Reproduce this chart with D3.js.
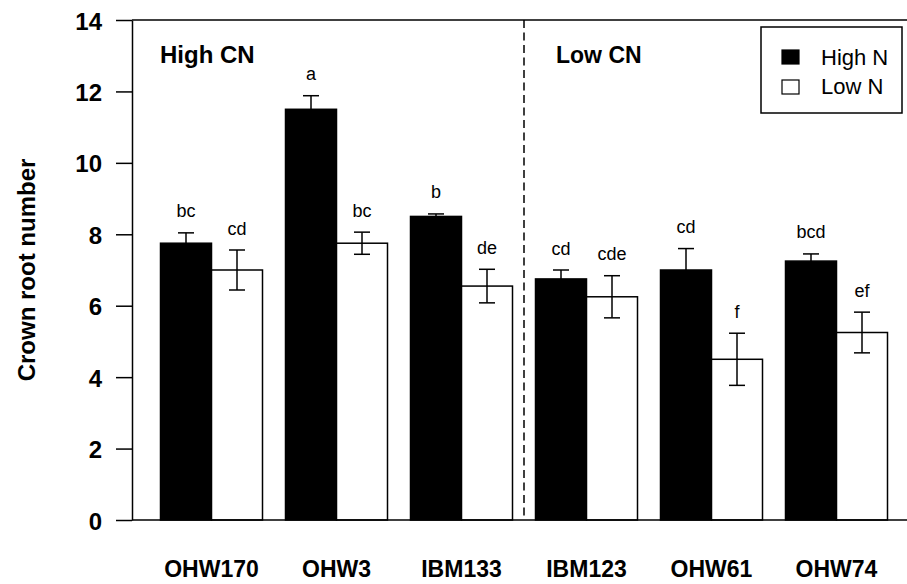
<!DOCTYPE html>
<html>
<head>
<meta charset="utf-8">
<script src="https://cdnjs.cloudflare.com/ajax/libs/d3/7.8.5/d3.min.js"></script>
<style>
  body { margin: 0; background: #fff; }
  svg text { font-family: 'Liberation Sans', Arial, sans-serif; }
</style>
</head>
<body>
<div id="chart"></div>
<script>
// genotypes and treatments
const categories = ['OHW170', 'OHW3', 'IBM133', 'IBM123', 'OHW61', 'OHW74'];
const treatments = ['High N', 'Low N'];

// crown root number means and standard errors
const highN = [7.75, 11.5, 8.5, 6.75, 7.0, 7.25];
const highSE = [0.29, 0.38, 0.07, 0.25, 0.6, 0.2];
const lowN = [7.0, 7.75, 6.55, 6.25, 4.5, 5.25];
const lowSE = [0.56, 0.31, 0.47, 0.59, 0.73, 0.57];

// significance letters
const highLetters = ['bc', 'a', 'b', 'cd', 'cd', 'bcd'];
const lowLetters = ['cd', 'bc', 'de', 'cde', 'f', 'ef'];

const yTicks = [0, 2, 4, 6, 8, 10, 12, 14];

const width = 907, height = 584;
const axisX = 132;

const svg = d3.select('#chart')
  .append('svg')
  .attr('width', width)
  .attr('height', height);

const y = d3.scaleLinear().domain([0, 14]).range([520, 20]);
const x0 = d3.scaleBand().domain(categories).range([149, 899]).padding(0);
const barW = 51;
const x1 = d3.scaleBand().domain(treatments)
  .range([x0.bandwidth() / 2 - barW, x0.bandwidth() / 2 + barW]);

// build rows from the arrays
const rows = [];
categories.forEach((c, i) => {
  rows.push({ cat: c, t: 'High N', v: highN[i], se: highSE[i], lab: highLetters[i] });
  rows.push({ cat: c, t: 'Low N', v: lowN[i], se: lowSE[i], lab: lowLetters[i] });
});

// bars
svg.append('g').selectAll('rect')
  .data(rows)
  .enter()
  .append('rect')
  .attr('x', d => x0(d.cat) + x1(d.t))
  .attr('y', d => y(d.v))
  .attr('width', x1.bandwidth())
  .attr('height', d => y(0) - y(d.v))
  .style('fill', d => d.t == 'High N' ? '#000' : '#fff')
  .style('stroke', '#000')
  .style('stroke-width', 1.5);

// error bars
const errs = svg.append('g').selectAll('g')
  .data(rows)
  .enter()
  .append('g')
  .attr('transform', d => `translate(${x0(d.cat) + x1(d.t) + x1.bandwidth() / 2}, 0)`);
errs.append('line')
  .attr('y1', d => y(d.v - d.se))
  .attr('y2', d => y(d.v + d.se))
  .style('stroke', '#000').style('stroke-width', 1.5);
errs.append('line')
  .attr('x1', -8).attr('x2', 8)
  .attr('y1', d => y(d.v + d.se)).attr('y2', d => y(d.v + d.se))
  .style('stroke', '#000').style('stroke-width', 1.5);
errs.filter(d => d.t == 'Low N').append('line')
  .attr('x1', -8).attr('x2', 8)
  .attr('y1', d => y(d.v - d.se)).attr('y2', d => y(d.v - d.se))
  .style('stroke', '#000').style('stroke-width', 1.5);

// letters
errs.append('text')
  .attr('y', d => y(d.v + d.se) - 15.5)
  .attr('text-anchor', 'middle')
  .style('font-size', '18px')
  .text(d => d.lab);

// y axis
const yAxis = d3.axisLeft(y)
  .tickValues(yTicks)
  .tickSize(16)
  .tickSizeOuter(0)
  .tickPadding(14);
const ya = svg.append('g')
  .attr('transform', `translate(${axisX}, 0)`)
  .call(yAxis);
ya.selectAll('line').style('stroke', '#000').style('stroke-width', 1.5);
ya.select('.domain').style('stroke', '#000').style('stroke-width', 1.5);
ya.selectAll('text')
  .style('font-size', '24px')
  .style('font-weight', 'bold')
  .attr('dy', '0.38em');

// top and bottom frame lines
svg.append('line')
  .attr('x1', axisX).attr('x2', width)
  .attr('y1', y(14)).attr('y2', y(14))
  .style('stroke', '#000').style('stroke-width', 1.5);
svg.append('line')
  .attr('x1', axisX).attr('x2', width)
  .attr('y1', y(0)).attr('y2', y(0))
  .style('stroke', '#000').style('stroke-width', 1.5);

// dashed divider between High CN and Low CN groups
const divX = x0(categories[3]);
svg.append('line')
  .attr('x1', divX).attr('x2', divX)
  .attr('y1', y(14)).attr('y2', y(0))
  .style('stroke', '#000').style('stroke-width', 1.5)
  .style('stroke-dasharray', '8,4.5');

// category labels
svg.append('g').selectAll('text')
  .data(categories)
  .enter()
  .append('text')
  .attr('x', d => x0(d) + x0.bandwidth() / 2)
  .attr('y', 577)
  .attr('text-anchor', 'middle')
  .style('font-size', '23px')
  .style('font-weight', 'bold')
  .text(d => d);

// group titles
svg.append('text')
  .attr('x', 160).attr('y', 63)
  .style('font-size', '24px').style('font-weight', 'bold')
  .text('High CN');
svg.append('text')
  .attr('x', 556).attr('y', 63)
  .style('font-size', '23px').style('font-weight', 'bold')
  .text('Low CN');

// y title
svg.append('text')
  .attr('transform', `translate(35, ${(y(0) + y(14)) / 2}) rotate(-90)`)
  .attr('text-anchor', 'middle')
  .style('font-size', '24px')
  .style('font-weight', 'bold')
  .text('Crown root number');

// legend
const legend = svg.append('g');
legend.append('rect')
  .attr('x', 761).attr('y', 27)
  .attr('width', 141).attr('height', 86)
  .style('fill', '#fff').style('stroke', '#000').style('stroke-width', 1.5);
treatments.forEach((t, i) => {
  legend.append('rect')
    .attr('x', 782).attr('y', 50 + i * 30)
    .attr('width', 17).attr('height', 14)
    .style('fill', i == 0 ? '#000' : '#fff')
    .style('stroke', '#000').style('stroke-width', 1.2);
  legend.append('text')
    .attr('x', 821).attr('y', 65 + i * 28.5)
    .style('font-size', '22px')
    .text(t);
});
</script>
</body>
</html>
